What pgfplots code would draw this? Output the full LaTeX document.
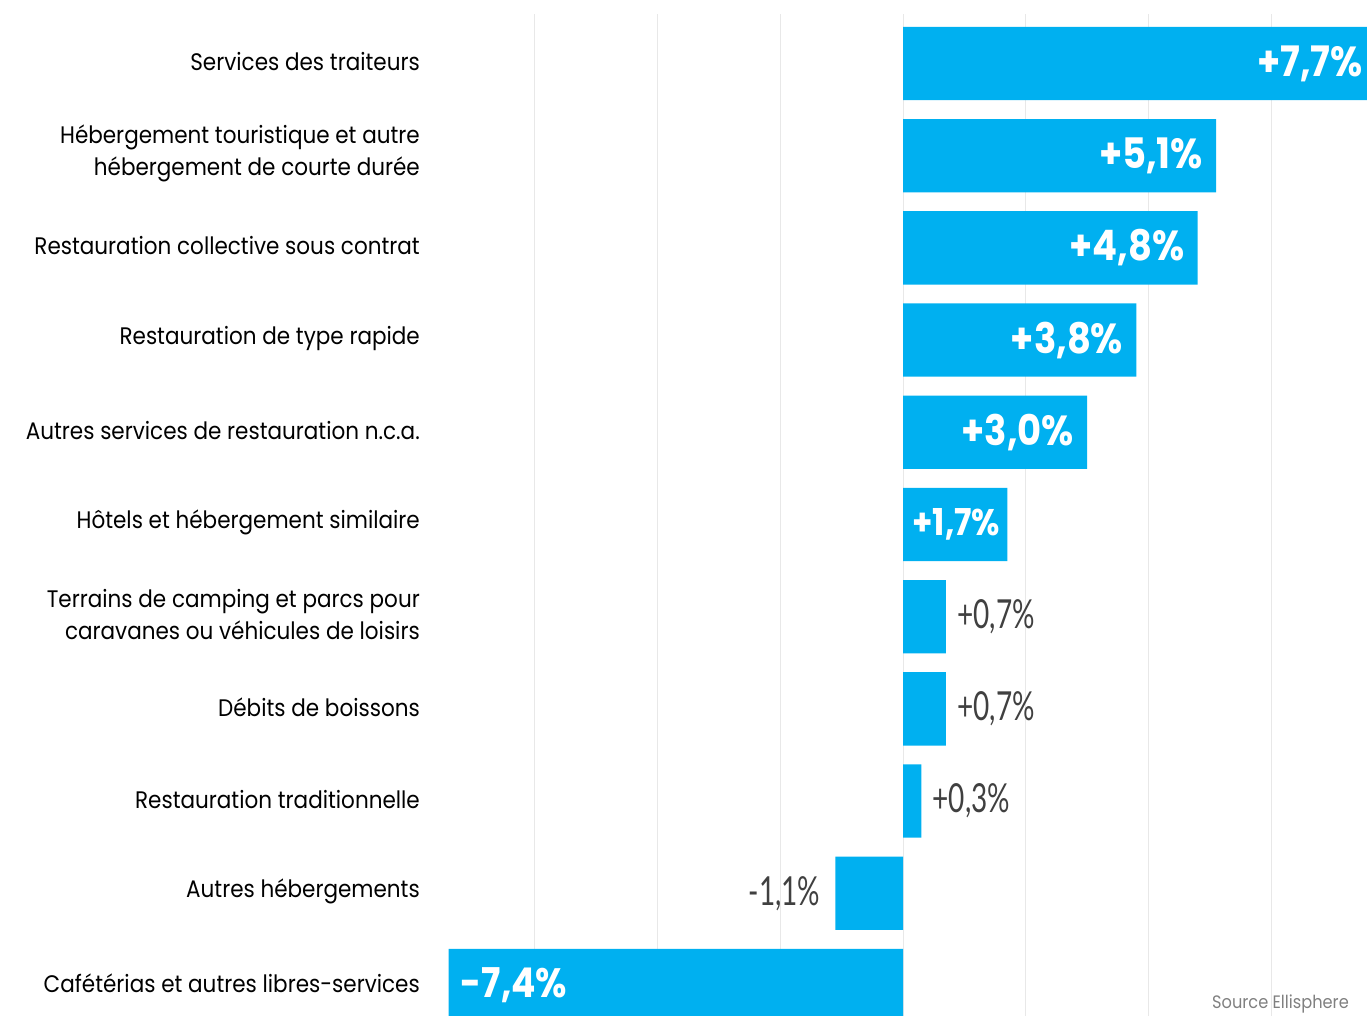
\documentclass[border=0pt]{standalone}
\usepackage{fontspec}
\setmainfont{Poppins}[FakeStretch=0.9]
\newfontfamily\vallab{Poppins}[FakeStretch=0.88]
\newfontfamily\condlab{Lato}[FakeStretch=0.7]
\usepackage{pgfplots}
\pgfplotsset{compat=1.18}
\definecolor{barblue}{HTML}{00B0F0}
\definecolor{gridgray}{HTML}{E8E8E8}
\definecolor{labgray}{HTML}{404040}
\definecolor{srcgray}{HTML}{808080}
\begin{document}
\begin{tikzpicture}
\useasboundingbox (0,0) rectangle (1367pt,1016pt);
\begin{axis}[
  at={(440pt,0pt)}, anchor=south west,
  scale only axis, width=927pt, height=1002pt,
  xmin=-7.541, xmax=7.557, ymin=-0.331, ymax=10.537,
  clip=false,
  axis line style={draw=none},
  tick style={draw=none},
  xtick={-6,-4,-2,0,2,4,6},
  xticklabels={},
  xmajorgrids,
  grid style={color=gridgray, line width=1pt},
  ytick={0,...,10},
  yticklabels={
    {Cafétérias et autres libres-services},
    {Autres hébergements},
    {Restauration traditionnelle},
    {Débits de boissons},
    {Terrains de camping et parcs pour\\caravanes ou véhicules de loisirs},
    {Hôtels et hébergement similaire},
    {Autres services de restauration n.c.a.},
    {Restauration de type rapide},
    {Restauration collective sous contrat},
    {Hébergement touristique et autre\\hébergement de courte durée},
    {Services des traiteurs}},
  yticklabel style={align=right, inner sep=0pt, xshift=-20pt, yshift=2pt, text=black,
    font=\fontsize{23.9}{32}\selectfont},
]
\addplot[xbar, bar shift=0pt, bar width=0.795, fill=barblue, draw=none]
  coordinates {(7.7,10) (5.1,9) (4.8,8) (3.8,7) (3.0,6) (1.7,5) (0.7,4) (0.7,3) (0.3,2) (-1.1,1) (-7.4,0)};
% inside labels, positive
\addplot[xbar, bar shift=0pt, bar width=0.795, draw=none, fill=none,
  point meta=explicit symbolic, nodes near coords,
  every node near coord/.append style={anchor=east, xshift=-13pt, inner sep=0pt, text=white,
    font=\vallab\bfseries\fontsize{42}{42}\selectfont}]
  coordinates {(7.7,10) [+7,7\%] (5.1,9) [+5,1\%] (4.8,8) [+4,8\%] (3.8,7) [+3,8\%] (3.0,6) [+3,0\%]
    (1.7,5) [{\fontsize{37}{37}\selectfont +1,7\%\kern-6pt}]};
% inside label, negative
\addplot[xbar, bar shift=0pt, bar width=0.795, draw=none, fill=none,
  point meta=explicit symbolic, nodes near coords,
  every node near coord/.append style={anchor=west, xshift=12pt, inner sep=0pt, text=white,
    font=\vallab\bfseries\fontsize{41}{41}\selectfont}]
  coordinates {(-7.4,0) [-7,4\%]};
% outside labels, positive
\addplot[xbar, bar shift=0pt, bar width=0.795, draw=none, fill=none,
  point meta=explicit symbolic, nodes near coords,
  every node near coord/.append style={anchor=west, xshift=11pt, inner sep=0pt, text=labgray,
    font=\condlab\fontsize{40}{40}\selectfont}]
  coordinates {(0.7,4) [+0,7\%] (0.7,3) [+0,7\%] (0.3,2) [+0,3\%]};
% outside label, negative
\addplot[xbar, bar shift=0pt, bar width=0.795, draw=none, fill=none,
  point meta=explicit symbolic, nodes near coords,
  every node near coord/.append style={anchor=east, xshift=-15pt, inner sep=0pt, text=labgray,
    font=\condlab\fontsize{40}{40}\selectfont}]
  coordinates {(-1.1,1) [-1,1\%]};
\end{axis}
\node[anchor=base east, inner sep=0pt, text=srcgray, font=\fontsize{18}{18}\selectfont] at (1349pt,7pt) {Source Ellisphere};
\end{tikzpicture}
\end{document}
